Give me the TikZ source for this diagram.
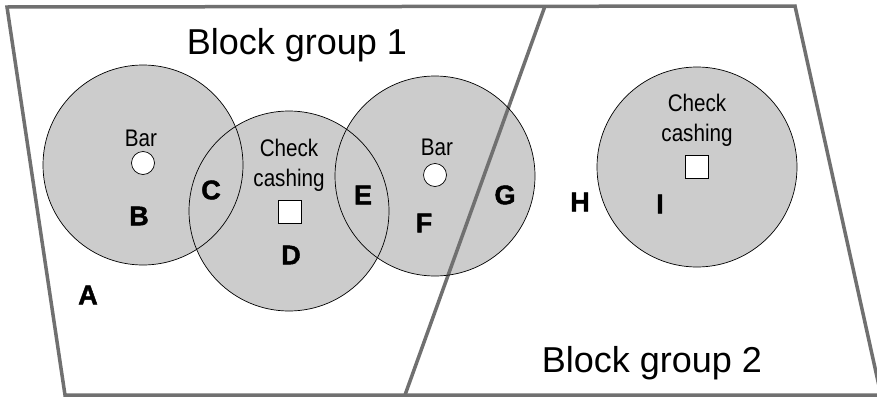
\documentclass[tikz,border=0pt]{standalone}
\usepackage{fontspec}
\setmainfont{Liberation Sans}
\newfontfamily\heavyfont[FakeBold=1.6]{Liberation Sans Bold}
\definecolor{zonegray}{HTML}{CCCCCC}
\definecolor{edgegray}{HTML}{707070}
\newcommand{\narrowtxt}[1]{\scalebox{0.86}[1]{#1}}
\tikzset{
  zone/.style={circle, fill=zonegray, minimum size=200pt, inner sep=0pt},
  ring/.style={circle, draw=black, line width=0.7pt, minimum size=200pt, inner sep=0pt},
  barmark/.style={circle, draw=black, fill=white, line width=0.7pt, minimum size=23pt, inner sep=0pt},
  shopmark/.style={rectangle, draw=black, fill=white, line width=0.7pt, minimum size=23pt, inner sep=0pt},
  lab/.style={font=\fontsize{24}{30}\selectfont, align=center, inner sep=0pt},
  area/.style={font=\fontsize{27}{27}\heavyfont, inner sep=0pt},
  grouptitle/.style={font=\fontsize{36}{36}\selectfont, inner sep=0pt},
  border/.style={draw=edgegray, line width=3.5pt}
}

\begin{document}
\begin{tikzpicture}[x=1pt, y=-1pt]
	\useasboundingbox (0,0) rectangle (877,399);
	% gray service areas
	\node[zone] (barA) at (143,165) {};
	\node[zone] (cashA) at (289,211) {};
	\node[zone] (barB) at (435,176) {};
	\node[zone] (cashB) at (697,167) {};
	% block group borders
	\coordinate (tl) at (7,7);
	\coordinate (tr) at (795,6);
	\coordinate (br) at (881,395);
	\coordinate (bl) at (65,395);
	\coordinate (dt) at (545,6);
	\coordinate (db) at (405,395);
	\draw[border] (tl) -- (tr) -- (br) -- (bl) -- cycle;
	\draw[border] (dt) -- (db);
	% circle outlines
	\foreach \c in {barA,cashA,barB,cashB}
		\node[ring] at (\c) {};
	% places
	\node[barmark] (barAdot) at (143,163) {};
	\node[barmark] (barBdot) at (435,175) {};
	\node[shopmark] (cashAbox) at (290,212) {};
	\node[shopmark] (cashBbox) at (697,167) {};
	\node[lab] (barAtxt) at (141,138) {\narrowtxt{Bar}};
	\node[lab] (barBtxt) at (437,147) {\narrowtxt{Bar}};
	\node[lab] (cashAtxt) at (289,165) {\narrowtxt{Check}\\\narrowtxt{cashing}};
	\node[lab] (cashBtxt) at (697,120) {\narrowtxt{Check}\\\narrowtxt{cashing}};
	% area letters
	\node[area] (a) at (88,295) {A};
	\node[area] (b) at (139,216) {B};
	\node[area] (c) at (211,190) {C};
	\node[area] (d) at (291,255) {D};
	\node[area] (e) at (363,195) {E};
	\node[area] (f) at (424,223) {F};
	\node[area] (g) at (505,195) {G};
	\node[area] (h) at (580,202) {H};
	\node[area] (i) at (660,204) {I};
	% titles
	\node[grouptitle] (bg1) at (297,45) {Block group 1};
	\node[grouptitle] (bg2) at (652,363) {Block group 2};
\end{tikzpicture}
\end{document}
